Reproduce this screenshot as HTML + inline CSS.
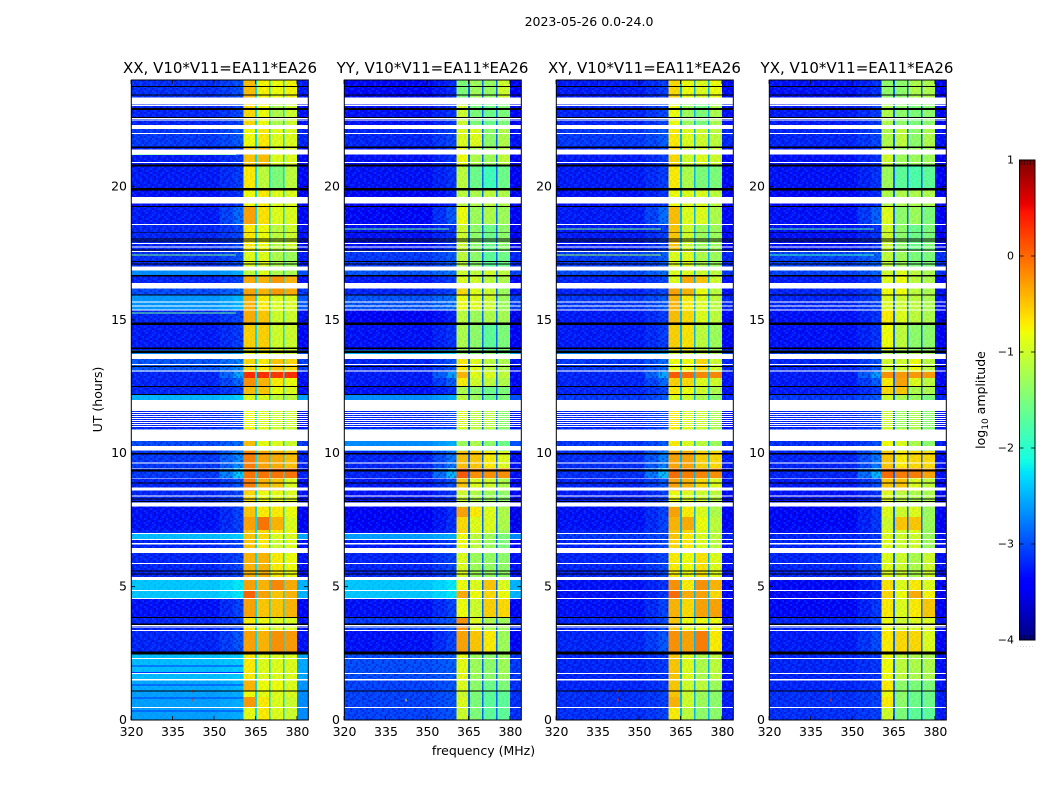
<!DOCTYPE html>
<html>
<head>
<meta charset="utf-8">
<title>Dynamic spectra 2023-05-26</title>
<style>
html,body{margin:0;padding:0;background:#fff;}
svg{display:block;}
text{font-family:"DejaVu Sans","Liberation Sans",sans-serif;fill:#000;}
</style>
</head>
<body>
<svg id="figure" xmlns="http://www.w3.org/2000/svg" width="1050" height="800" viewBox="0 0 1050 800">
  <defs id="defs"></defs>
  <rect x="0" y="0" width="1050" height="800" fill="#fff"/>
  <text x="589" y="26" font-size="12.5" text-anchor="middle">2023-05-26 0.0-24.0</text>
  <text x="220" y="73" font-size="15" text-anchor="middle">XX, V10*V11=EA11*EA26</text>
  <text x="432.5" y="73" font-size="15" text-anchor="middle">YY, V10*V11=EA11*EA26</text>
  <text x="644.5" y="73" font-size="15" text-anchor="middle">XY, V10*V11=EA11*EA26</text>
  <text x="857" y="73" font-size="15" text-anchor="middle">YX, V10*V11=EA11*EA26</text>
  <g id="panel-0"></g>
  <g id="panel-1"></g>
  <g id="panel-2"></g>
  <g id="panel-3"></g>
  <text x="483.5" y="755" font-size="12.5" text-anchor="middle">frequency (MHz)</text>
  <text x="0" y="0" font-size="12.5" text-anchor="middle" transform="translate(102,399.5) rotate(-90)">UT (hours)</text>
  <g id="colorbar"></g>
  <text x="0" y="0" font-size="12.5" text-anchor="middle" transform="translate(985,400) rotate(-90)">log<tspan font-size="9" dy="3">10</tspan><tspan dy="-3"> amplitude</tspan></text>
</svg>
<script>
// ---- axis ticks and value ranges ----
var freqTicks = [320, 335, 350, 365, 380];
var hourTicks = [0, 5, 10, 15, 20];
var colorTicks = [1, 0, -1, -2, -3, -4];
var colorTickLabels = ['1', '0', '\u22121', '\u22122', '\u22123', '\u22124'];
var colorMinorTicks = [0.1, 0.3, 0.5, 0.7, 0.9];
var freqRange = [320, 384];
var hourRange = [0, 24];
var colorRange = [-4, 1];

// ---- frequency segments (MHz) ----
var inBandSegments = [[360.6, 364.9], [365.5, 369.9], [370.5, 374.9], [375.5, 380]];
var bandGaps = [[364.9, 365.5], [369.9, 370.5], [374.9, 375.5]];
var gapLevels = [-2.3, -2.9, -2.5, -2.9];

// ---- time rows (UT hours, top to bottom) ----
var rowEdges = [24, 23.1, 22.31, 21.49, 20.78, 19.91, 19.24, 18.6, 17.63, 16.95, 16.65, 16.2, 15.94, 15.38, 14.85, 13.88, 13.54, 13.05, 12.83, 12.53, 12.23, 11.59, 10.91, 10.09, 9.45, 9.08, 8.59, 7.99, 7.61, 7.13, 7.01, 6.79, 6.26, 5.36, 4.88, 4.58, 3.86, 3.34, 2.51, 1.5, 1.09, 0.86, 0.49, 0];
// log10 amplitude lift just below the band edge (352-360 MHz) in each row
var edgeLift = [0.2, 0.2, 0.2, 0.2, 0.2, 0.2, 0.5, 0.2, 0.2, 0.2, 0.2, 0.2, 0.2, 0.2, 0.2, 0.2, 0.3, 0.8, 0.4, 0.2, 0.2, 0.2, 0.2, 0.5, 0.9, 0.3, 0.2, 0.3, 0.3, 0.2, 0.1, 0.2, 0.2, 0.2, 0.2, 0.3, 0.2, 0.3, 0.1, 0.1, 0.1, 0.1, 0.1];

// ---- log10 amplitude per row: [background, seg1, seg2, seg3, seg4] ----
var levelsXX = [
[-2.95,-.45,-.75,-.8,-.75],[-3,-.6,-.8,-1.2,-1],[-2.9,-.8,-.7,-.9,-.9],[-3.05,-.5,-.45,-.9,-.9],[-3.05,-.7,-1.1,-1.5,-1.1],
[-3.1,-.8,-.7,-.9,-.9],[-3.05,-.3,-.65,-.9,-.9],[-3,-.7,-.8,-1.1,-1],[-2.95,-.9,-.9,-1.2,-1.3],[-2.7,-1.1,-.9,-1.2,-1.2],
[-3,-.35,-.4,-.25,-.4],[-2.8,-.3,-.4,-.25,-.35],[-2.65,-.4,-.7,-.9,-.9],[-3,-.35,-.5,-1,-1],[-3.05,-.55,-.55,-1,-1],
[-2.7,-.8,-.8,-.9,-1],[-2.75,-.6,-.7,-.5,-.6],[-3,.35,.35,.3,.35],[-3,-.2,-.4,-.7,-.8],[-3,-.45,-.5,-.8,-.9],
[-2.5,-.9,-.9,-1.1,-1.1],[-3,-.8,-.9,-1,-1],[-2.8,-.45,-.85,-.9,-1],[-2.9,-.1,-.3,-.35,-.45],[-2.9,-.05,-.05,-.05,-.05],
[-3,-.1,-.4,-.5,-.9],[-3,-.6,-.8,-.85,-.9],[-3.1,-.5,-.7,-.7,-.8],[-3.1,-.3,-.05,-.4,-.9],[-3,-.5,-.6,-.7,-.8],
[-2.45,-.5,-.6,-.9,-.9],[-3,-.5,-.7,-1,-.9],[-3,-.4,-.4,-.7,-.8],[-2.4,-.3,-.4,-.15,-.35],[-2.4,.05,-.3,-.5,-.4],
[-3.1,-.3,-.5,-.5,-.4],[-3,-.7,-.8,-.9,-.9],[-3,-.3,-.4,-.2,-.25],[-2.45,-.7,-.9,-.9,-.9],[-2.55,-.4,-.8,-.8,-.9],
[-2.6,-.8,-.85,-.9,-.9],[-2.6,-.25,-.7,-.9,-1],[-2.6,-.85,-.7,-.9,-1]
];
var levelsYY = [
[-3.15,-1.5,-1.3,-1.35,-1],[-3.1,-1,-1.5,-1.6,-1.5],[-3,-.9,-.9,-1.4,-1.2],[-3.1,-.8,-1.2,-1.3,-1.1],[-3.1,-1.1,-1.6,-1.9,-1.6],
[-3.2,-1.1,-1.2,-1.1,-1.2],[-3.15,-.8,-1.3,-1.2,-1.3],[-3.1,-1,-1.4,-1.6,-1.4],[-2.9,-1.1,-1.4,-1.7,-1.6],[-2.75,-1,-1.1,-1,-1.1],
[-3.05,-.9,-1,-1.1,-1.2],[-3,-.6,-.9,-1,-1.3],[-2.75,-.8,-.9,-1,-1.3],[-3.2,-1.1,-1.3,-1.2,-1.25],[-3.1,-1.2,-1.4,-1.7,-1.5],
[-2.5,-1.4,-1.5,-1.4,-1.6],[-3,-.7,-.9,-1.1,-1.2],[-3.05,-.4,-.9,-.9,-1.1],[-3.05,-.7,-1,-1.1,-1.2],[-3.1,-1.2,-1.4,-1.6,-1.5],
[-2.7,-1.1,-1.3,-1.6,-1.5],[-3,-.9,-1.1,-1.1,-1.4],[-2.7,-1.3,-1.2,-1.4,-1.6],[-3,-.45,-.5,-.7,-.9],[-3,.1,-.2,-.2,-.2],
[-3.05,-.5,-.9,-1,-1.2],[-3.1,-1,-1.2,-1.3,-1.4],[-3.2,-.3,-.7,-.9,-1.2],[-3.2,-.6,-.9,-.9,-1.2],[-3.1,-.6,-.9,-1,-1.3],
[-2.6,-.8,-1.1,-1.3,-1.5],[-3.05,-.8,-1.1,-1.3,-1.5],[-3,-.9,-1.3,-1.35,-1.4],[-2.4,-.8,-.9,-.5,-.9],[-2.4,-.35,-.8,-.6,-.8],
[-3.1,-.8,-1,-.55,-.6],[-2.9,-.2,-.9,-1.2,-1.3],[-3.1,-.3,-.5,-.7,-1.3],[-2.8,-.85,-1.3,-1.4,-1.3],[-2.85,-.9,-1.4,-1.6,-1.5],
[-2.85,-1,-1.5,-1.7,-1.7],[-2.85,-.9,-1.5,-1.7,-1.7],[-2.85,-1,-1.5,-1.7,-1.7]
];
var levelsXY = [
[-3.05,-.6,-.8,-.9,-.8],[-3,-.8,-1.3,-1.5,-1.2],[-2.9,-.7,-.9,-1,-1.1],[-3.05,-.6,-1,-.9,-1],[-3.05,-.7,-1.2,-1.5,-1.5],
[-3.1,-.8,-.9,-.9,-1.1],[-3.05,-.45,-.9,-.9,-1.2],[-3.05,-.5,-1,-1.3,-1.3],[-2.9,-.9,-.9,-1.2,-1.3],[-2.8,-.9,-.9,-1,-1.1],
[-3,-.9,-.35,-.5,-1],[-3,-.3,-.4,-.8,-1.1],[-2.9,-.4,-.7,-.9,-1.1],[-3.05,-.45,-.6,-.9,-1.1],[-3.05,-.55,-.65,-1.1,-1.3],
[-2.7,-1,-1,-1.1,-1.2],[-2.9,-.8,-.8,-.6,-1],[-3,.1,0,-.15,-.15],[-3,-.55,-.6,-.9,-1],[-3,-.7,-.8,-1,-1.2],
[-2.9,-.9,-1,-1.2,-1.4],[-3,-.7,-.9,-1,-1.2],[-2.9,-.7,-.9,-1.1,-1.3],[-2.95,-.3,-.3,-.55,-.6],[-2.95,0,-.1,-.15,-.2],
[-3,-.3,-.4,-.6,-.9],[-3.05,-.8,-.9,-1,-1.1],[-3.1,-.3,-.7,-.9,-1.2],[-3.1,-.4,-.35,-.8,-1.1],[-3,-.5,-.6,-.9,-1.1],
[-2.9,-.5,-.7,-.9,-1.1],[-3,-.6,-.7,-.9,-1.1],[-3,-.7,-.8,-.65,-.9],[-3.1,-.2,-.7,-.2,-.4],[-3.1,0,-.35,-.3,-.6],
[-3.1,-.4,-.6,-.3,-.3],[-3,-.5,-.8,-.8,-.8],[-3,-.2,-.3,-.1,-.7],[-3,-.5,-.9,-1.2,-1.1],[-3,-.5,-1,-1.1,-1.3],
[-2.95,-.5,-1,-1.3,-1.4],[-2.95,-.4,-1,-1.3,-1.4],[-2.95,-.7,-1.1,-1.4,-1.4]
];
var levelsYX = [
[-3.1,-1.4,-1.4,-1.2,-1.2],[-3.05,-1.2,-1.4,-1.5,-1.4],[-3,-1.2,-1.1,-1.4,-1.2],[-3.1,-1,-1.3,-1.3,-1.3],[-3.1,-1.3,-1.7,-1.8,-1.7],
[-3.15,-1.2,-1.2,-1.2,-1.2],[-3.1,-.9,-1.4,-1.3,-1.5],[-3.1,-1,-1.4,-1.6,-1.5],[-2.85,-1.1,-1.3,-1.5,-1.5],[-2.85,-1,-.9,-1.1,-1.2],
[-3.05,-.9,-.8,-1.1,-1.2],[-3,-.8,-.8,-1.1,-1.2],[-3,-.9,-1,-1.1,-1.2],[-3.1,-.7,-.9,-1.1,-1.2],[-3.1,-.8,-1.1,-1.4,-1.4],
[-2.8,-1.2,-1.3,-1.2,-1.3],[-3,-1,-1,-.8,-1.1],[-3.05,-.2,-.25,-.25,-.25],[-3.05,-.7,-.3,-.9,-1.1],[-3.05,-.6,-.5,-1.2,-1.2],
[-2.9,-1,-1.2,-1.3,-1.5],[-3,-1,-1.3,-1.2,-1.4],[-2.95,-.8,-.9,-1.2,-1.4],[-3,-.5,-.7,-.6,-.6],[-3,0,-.1,-.1,-.3],
[-3.05,-.5,-.5,-.9,-1.1],[-3.1,-.9,-1.1,-1.2,-1.2],[-3.15,-.9,-1,-.9,-1.3],[-3.15,-1,-.5,-.5,-1.3],[-3.1,-.9,-1,-.9,-1.3],
[-3,-.9,-1,-1,-1.3],[-3,-.9,-1,-1,-1.3],[-3,-.9,-1,-1.2,-1],[-3.15,-.65,-.9,-.7,-.9],[-3.15,-.6,-.8,-.35,-.75],
[-3.15,-.7,-.9,-.7,-.5],[-3,-.8,-1,-.9,-.9],[-3.05,-.7,-.6,-.6,-.9],[-3,-.8,-1.1,-1.2,-1.2],[-3,-.7,-1.4,-1.5,-1.5],
[-2.95,-.8,-1.4,-1.6,-1.6],[-2.95,-.7,-1.4,-1.6,-1.6],[-2.95,-1,-1.5,-1.7,-1.7]
];

// ---- flagged (blank) intervals in UT hours: [start, end] ----
var flaggedBands = [[23.34,23.09],[23.06,23.03],[22.58,22.54],[22.52,22.48],[22.31,22.16],[22.01,21.98],[21.39,21.21],[20.93,20.89],[19.62,19.41],[19.4,19.37],[18.6,18.56],[17.89,17.85],[17.76,17.72],[17.59,17.55],[17,16.86],[16.39,16.19],[15.69,15.66],[15.54,15.51],[15.39,15.36],[13.73,13.54],[13.35,13.31],[13.11,13.07],[12,11.59],[11.55,11.5125],[11.475,11.4375],[11.4,11.3625],[11.325,11.2875],[11.25,11.2125],[11.175,11.1375],[11.1,11.0625],[11.025,10.9875],[10.9,10.47],[10.28,10.1],[9.66,9.62],[9.44,9.41],[9.08,9.05],[8.71,8.6],[8.42,8.38],[8.15,8],[7.01,6.98],[6.79,6.75],[6.63,6.59],[6.45,6.27],[5.89,5.85],[5.36,5.25],[4.88,4.84],[4.58,4.54],[3.56,3.53],[3.5,3.46],[3.38,3.34],[2.33,2.29],[1.76,1.73],[1.54,1.49],[0.49,0.45]];
// zero-amplitude integrations, drawn black: [UT hour, thickness in hours]
var zeroLines = [[23.76,.03],[23.44,.03],[22.91,.07],[22.59,.03],[21.48,.05],[20.79,.08],[19.91,.09],[19.26,.04],[18.27,.03],[18.04,.03],[17.96,.03],[17.63,.03],[17.19,.03],[17.1,.03],[16.66,.04],[15.93,.04],[14.86,.09],[13.94,.04],[13.81,.09],[13.26,.04],[12.51,.04],[12.21,.04],[9.98,.05],[9.36,.07],[8.88,.04],[8.29,.04],[8.2,.04],[5.59,.04],[5.48,.04],[3.84,.04],[3.59,.04],[2.52,.11],[1.08,.04]];
// dim integrations in the XX background near 0-2 UT
var dimLinesXX = [2.03, 1.77, 1.31, 0.83, 0.34];

// ---- narrow interference: per panel [UT hour, log10 amplitude] ----
var interferenceXX = [[21.2,-1.6],[17.44,-1.5],[15.27,-1.6]];
var interferenceYY = [[18.41,-1.6]];
var interferenceXY = [[18.41,-1.5],[17.44,-1.3]];
var interferenceYX = [[18.41,-1.7],[17.44,-1.9]];
// ---- isolated spikes: per panel [MHz, UT hour, log10 amplitude] ----
var spikesXX = [[342.4,1.09,0.3],[342.4,0.75,0.3]];
var spikesYY = [[342.4,0.75,-0.6]];
var spikesXY = [[342.4,1.09,0.3],[342.4,0.75,0.3]];
var spikesYX = [[342.4,1.09,0.3],[342.4,0.75,0.3]];

var panelNames = ['xx', 'yy', 'xy', 'yx'];
var panelLevels = [levelsXX, levelsYY, levelsXY, levelsYX];
var panelInterference = [interferenceXX, interferenceYY, interferenceXY, interferenceYX];
var panelSpikes = [spikesXX, spikesYY, spikesXY, spikesYX];

// background grain tile: . none, d darker, l lighter
var grainRows = [
'.dl..d.ld..l.d.l',
'd..l.dd..l.d..ld',
'.l.d..l.dd.l.d..',
'l.d.ld..l..d.l.d',
'.d..l..d.ld..dl.',
'd.ld..l.d..l.d..',
'.l..d.ld..dl..ld',
'..dl.d..l.d..l.d',
'l.d..ld.d.l.d..l',
'.d.l.d..l..dl.d.',
'd..dl..d.ld..l..',
'.ld..l.d.d..l.dl'
];

var SVGNS = 'http://www.w3.org/2000/svg';
var axesLeft = [131, 344, 556, 769];
var axesWidth = 177;
var axesTop = 80;
var axesHeight = 640;

function el(tag, parent) {
  var e = document.createElementNS(SVGNS, tag);
  parent.appendChild(e);
  return e;
}
function xScale(panel, mhz) {
  return axesLeft[panel] + (mhz - freqRange[0]) / (freqRange[1] - freqRange[0]) * axesWidth;
}
function yScale(hour) {
  return axesTop + axesHeight - (hour - hourRange[0]) / (hourRange[1] - hourRange[0]) * axesHeight;
}
function interp(t, pts) {
  if (t <= pts[0][0]) return pts[0][1];
  for (var i = 1; i < pts.length; i++) {
    if (t <= pts[i][0]) {
      var a = pts[i - 1], b = pts[i];
      return a[1] + (b[1] - a[1]) * (t - a[0]) / (b[0] - a[0]);
    }
  }
  return pts[pts.length - 1][1];
}
function jet(t) {
  var r = interp(t, [[0, 0], [0.35, 0], [0.66, 1], [0.89, 1], [1, 0.5]]);
  var g = interp(t, [[0, 0], [0.125, 0], [0.375, 1], [0.64, 1], [0.91, 0], [1, 0]]);
  var b = interp(t, [[0, 0.5], [0.11, 1], [0.34, 1], [0.65, 0], [1, 0]]);
  return 'rgb(' + Math.round(r * 255) + ',' + Math.round(g * 255) + ',' + Math.round(b * 255) + ')';
}
function colorOf(level) {
  return jet((level - colorRange[0]) / (colorRange[1] - colorRange[0]));
}
// the texture overlay lightens quiet rows, so they are drawn a little lower
function quiet(level) {
  return level <= -2.75 ? level - 0.2 : level;
}
function box(parent, x0, x1, y0, y1, fill) {
  var r = el('rect', parent);
  r.setAttribute('x', x0);
  r.setAttribute('y', y0);
  r.setAttribute('width', x1 - x0);
  r.setAttribute('height', y1 - y0);
  r.setAttribute('fill', fill);
  r.setAttribute('shape-rendering', 'crispEdges');
  return r;
}

// grain patterns
var defs = document.getElementById('defs');
function makeGrain(id, darkFill, lightFill) {
  var pat = el('pattern', defs);
  pat.setAttribute('id', id);
  pat.setAttribute('patternUnits', 'userSpaceOnUse');
  pat.setAttribute('width', 32);
  pat.setAttribute('height', 24);
  grainRows.forEach(function (row, j) {
    row.split('').forEach(function (ch, i) {
      if (ch === '.') return;
      var c = box(pat, i * 2, i * 2 + 2, j * 2, j * 2 + 2, ch === 'd' ? darkFill : lightFill);
      
      
    });
  });
}
makeGrain('grain', 'rgba(0,0,130,0.3)', 'rgba(0,130,255,0.24)');
makeGrain('soft-grain', 'rgba(0,90,255,0.14)', 'rgba(0,230,255,0.1)');
makeGrain('band-grain', 'rgba(40,200,120,0.13)', 'rgba(255,130,0,0.12)');

panelNames.forEach(function (name, p) {
  var g = document.getElementById('panel-' + p);
  var levels = panelLevels[p];
  var left = xScale(p, freqRange[0]), right = xScale(p, freqRange[1]);

  levels.forEach(function (row, r) {
    var y0 = yScale(rowEdges[r]), y1 = yScale(rowEdges[r + 1]);
    var base = quiet(row[0]);
    var bg = box(g, left, xScale(p, 352), y0, y1, colorOf(base));
    
    
    var edgeA = box(g, xScale(p, 352), xScale(p, 357), y0, y1, colorOf(base + edgeLift[r] * 0.4));
    
    
    var edgeB = box(g, xScale(p, 357), xScale(p, 360.6), y0, y1, colorOf(base + edgeLift[r] * 0.8));
    
    
    var tail = box(g, xScale(p, 380), right, y0, y1, colorOf(quiet(row[0] - 0.1)));
    
    
    inBandSegments.forEach(function (seg, s) {
      var c = box(g, xScale(p, seg[0]), xScale(p, seg[1]), y0, y1, colorOf(row[s + 1]));
      
      
    });
    bandGaps.forEach(function (gap, s) {
      var c = box(g, xScale(p, gap[0]), xScale(p, gap[1]), y0, y1, colorOf(gapLevels[p]));
      
      
    });
    var texture = 'url(#' + (row[0] <= -2.75 ? 'grain' : 'soft-grain') + ')';
    var t1 = box(g, left, xScale(p, 360.6), y0, y1, texture);
    
    
    var t2 = box(g, xScale(p, 380), right, y0, y1, texture);
    
    
  });

  var t3 = box(g, xScale(p, 360.6), xScale(p, 380), axesTop, axesTop + axesHeight, 'url(#band-grain)');
  
  

  if (p === 0) {
    dimLinesXX.forEach(function (h) {
      var d = box(g, left, xScale(p, 360.6), yScale(h) - 0.6, yScale(h) + 0.6, colorOf(-3.1));
      
      
    });
  }

  panelInterference[p].forEach(function (item) {
    var l = box(g, left, xScale(p, 358), yScale(item[0]) - 0.5, yScale(item[0]) + 0.5, colorOf(item[1]));
    
    
  });
  panelSpikes[p].forEach(function (item) {
    var s = box(g, xScale(p, item[0]) - 0.6, xScale(p, item[0]) + 0.6, yScale(item[1]) - 1.5, yScale(item[1]) + 1.5, colorOf(item[2]));
    
    
  });

  flaggedBands.forEach(function (b) {
    var w = box(g, left, right, yScale(b[0]), yScale(b[1]), '#fff');
    
    
  });
  zeroLines.forEach(function (b) {
    var y = yScale(b[0]), half = (b[1] / 2) * (axesHeight / 24);
    var k = box(g, left, right, y - half, y + half, '#000');
    
    
  });

  var frame = el('rect', g);
  frame.setAttribute('x', left + 0.3);
  frame.setAttribute('y', axesTop);
  frame.setAttribute('width', axesWidth);
  frame.setAttribute('height', axesHeight);
  frame.setAttribute('fill', 'none');
  frame.setAttribute('stroke', '#000');
  frame.setAttribute('stroke-width', '1');
  
  

  freqTicks.forEach(function (f) {
    var x = xScale(p, f);
    [[axesTop + axesHeight, axesTop + axesHeight - 4], [axesTop, axesTop + 4]].forEach(function (pair) {
      var t = el('line', g);
      t.setAttribute('x1', x);
      t.setAttribute('x2', x);
      t.setAttribute('y1', pair[0]);
      t.setAttribute('y2', pair[1]);
      t.setAttribute('stroke', '#000');
      t.setAttribute('stroke-width', '0.8');
      
      
    });
    var lab = el('text', g);
    lab.setAttribute('x', x + 0.5);
    lab.setAttribute('y', 736);
    lab.setAttribute('font-size', '12.5');
    lab.setAttribute('text-anchor', 'middle');
    
    
    lab.textContent = f;
  });
  hourTicks.forEach(function (h) {
    var y = yScale(h);
    [[left, left + 4], [right, right - 4]].forEach(function (pair) {
      var t = el('line', g);
      t.setAttribute('x1', pair[0]);
      t.setAttribute('x2', pair[1]);
      t.setAttribute('y1', y);
      t.setAttribute('y2', y);
      t.setAttribute('stroke', '#000');
      t.setAttribute('stroke-width', '0.8');
      
      
    });
    var lab = el('text', g);
    lab.setAttribute('x', left - 4);
    lab.setAttribute('y', y + 3.8);
    lab.setAttribute('font-size', '12.5');
    lab.setAttribute('text-anchor', 'end');
    
    
    lab.textContent = h;
  });
});

// colorbar
var cbLeft = 1019.5, cbRight = 1035, cbTop = 160, cbBottom = 640;
function cbY(v) {
  return cbBottom - (v - colorRange[0]) / (colorRange[1] - colorRange[0]) * (cbBottom - cbTop);
}
var grad = el('linearGradient', defs);
grad.setAttribute('id', 'jet-gradient');
grad.setAttribute('x1', '0');
grad.setAttribute('y1', '1');
grad.setAttribute('x2', '0');
grad.setAttribute('y2', '0');
for (var i = 0; i <= 100; i++) {
  var st = el('stop', grad);
  st.setAttribute('offset', (i / 100));
  st.setAttribute('stop-color', jet(i / 100));
}
var cb = document.getElementById('colorbar');
var cbFill = el('rect', cb);
cbFill.setAttribute('x', cbLeft);
cbFill.setAttribute('y', cbTop);
cbFill.setAttribute('width', cbRight - cbLeft);
cbFill.setAttribute('height', cbBottom - cbTop);
cbFill.setAttribute('fill', 'url(#jet-gradient)');
cbFill.setAttribute('stroke', '#000');
cbFill.setAttribute('stroke-width', '1');



colorTicks.forEach(function (v, k) {
  var y = cbY(v);
  [[cbLeft, cbLeft + 4], [cbRight, cbRight - 4]].forEach(function (pair) {
    var t = el('line', cb);
    t.setAttribute('x1', pair[0]);
    t.setAttribute('x2', pair[1]);
    t.setAttribute('y1', y);
    t.setAttribute('y2', y);
    t.setAttribute('stroke', '#000');
    t.setAttribute('stroke-width', '0.8');
    
    
  });
  var lab = el('text', cb);
  lab.setAttribute('x', 1014);
  lab.setAttribute('y', y + 3.5);
  lab.setAttribute('font-size', '11');
  lab.setAttribute('text-anchor', 'end');
  
  
  lab.textContent = colorTickLabels[k];
});
colorMinorTicks.forEach(function (f) {
  var x = cbLeft + f * (cbRight - cbLeft);
  [[cbTop, cbTop + 5], [cbBottom, cbBottom - 5]].forEach(function (pair) {
    var t = el('line', cb);
    t.setAttribute('x1', x);
    t.setAttribute('x2', x);
    t.setAttribute('y1', pair[0]);
    t.setAttribute('y2', pair[1]);
    t.setAttribute('stroke', '#000');
    t.setAttribute('stroke-width', '0.6');
    
    
  });
});
var dots = el('text', cb);
dots.setAttribute('x', 1017);
dots.setAttribute('y', 647);
dots.setAttribute('font-size', '5');
dots.setAttribute('letter-spacing', '1.3');
dots.setAttribute('style', 'fill:#888');


dots.textContent = '......';
</script>
</body>
</html>
